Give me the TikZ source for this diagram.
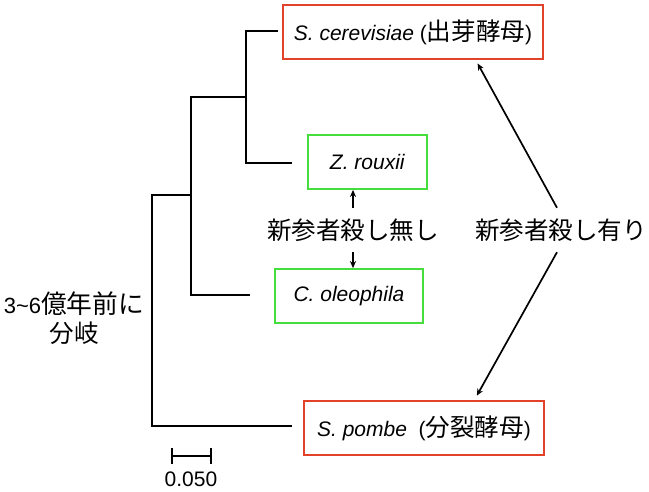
\documentclass[tikz,border=0pt]{standalone}
\usepackage{fontspec}
\setmainfont{Liberation Sans}
\newfontfamily\jp{Noto Sans CJK JP}[Scale=1.17]
\usetikzlibrary{arrows.meta}
\definecolor{boxred}{RGB}{226,66,42}
\definecolor{boxgreen}{RGB}{70,222,60}
\tikzstyle{redbox} = [rectangle, draw=boxred, line width=1.8pt,
    minimum height=54pt, inner sep=0pt]
\tikzstyle{greenbox} = [rectangle, draw=boxgreen, line width=1.8pt,
    minimum height=54pt, inner sep=0pt]
\tikzstyle{label} = [inner sep=0pt, minimum height=44pt]
\tikzstyle{tree} = [draw, line width=2pt]
\tikzstyle{line} = [draw, line width=1.7pt, -{Stealth[length=7pt,width=6pt]}]

\begin{document}
\begin{tikzpicture}[x=1pt, y=-1pt, font=\fontsize{21}{29}\selectfont]
    \useasboundingbox (0,0) rectangle (649,491);
    % Place nodes
    \node [redbox, minimum width=260pt] (cer) at (413,32)
        {\textit{S. cerevisiae} ({\jp 出芽酵母})};
    \node [greenbox, minimum width=119pt] (rou) at (367.5,162) {\textit{Z. rouxii}};
    \node [greenbox, minimum width=148pt] (ole) at (349,296) {\textit{C. oleophila}};
    \node [redbox, minimum width=240pt] (pom) at (424,428)
        {\textit{S. pombe}\ \ ({\jp 分裂酵母})};
    \node [label] (nokill) at (353,230) {\jp 新参者殺し無し};
    \node [label] (kill) at (561,230) {\jp 新参者殺し有り};
    \node [align=center, inner sep=0pt] (split) at (74,318)
        {\fontsize{22}{29}\selectfont 3\char`~6{\jp 億年前に}\\{\jp 分岐}};
    % tree points
    \coordinate (lcer) at (278,31);
    \coordinate (lrou) at (292,163);
    \coordinate (lole) at (250,295);
    \coordinate (lpom) at (292,426);
    \coordinate (a) at (246,97);
    \coordinate (b) at (191,195);
    \coordinate (root) at (152,426);
    \coordinate (sbl) at (171,456);
    \coordinate (sbr) at (212,456);
    \node [inner sep=0pt] (scale) at (191,479) {0.050};
    % Draw edges
    \path [tree] (lcer) -| (a) |- (lrou);
    \path [tree] (a) -| (b) |- (lole);
    \path [tree] (b) -| (root) -- (lpom);
    \path [draw, line width=1.6pt, {Bar[width=16pt]}-{Bar[width=16pt]}] (sbl) -- (sbr);

    \path [line] (nokill.north) -- (nokill.north |- rou.south);
    \path [line] (nokill.south) -- (nokill.south |- ole.north);
    \path [line, shorten >=4pt] ([xshift=-4pt]kill.north) -- (cer.-24);
    \path [line, shorten >=5pt] ([xshift=-4pt]kill.south) -- (pom.29);

\end{tikzpicture}
\end{document}
